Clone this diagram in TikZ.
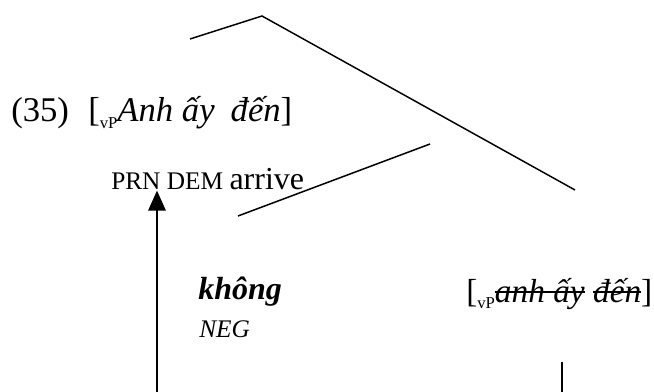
\documentclass[tikz,border=0pt]{standalone}
\usepackage{fontspec}
\setmainfont{Liberation Serif}
\usepackage{tikz}
\usetikzlibrary{arrows.meta}

\tikzset{
  branch/.style={line width=1.1pt},
  word/.style={anchor=base west,inner sep=0pt},
}
\newcommand{\subvp}{\raisebox{-0.2em}{\fontsize{12.5}{12.5}\selectfont vP}}
\newcommand{\strk}[1]{\setbox0\hbox{#1}\rlap{\rule[0.28em]{\wd0}{1.4pt}}\box0\relax}

\begin{document}
\begin{tikzpicture}[x=0.75pt,y=0.75pt,yscale=-1,xscale=1]
\path[use as bounding box] (0,0) rectangle (654,392);

%Tree points
\coordinate (lefta) at (190,39);
\coordinate (apex) at (262,16);
\coordinate (rightb) at (575,190);
\coordinate (mida) at (238,216);
\coordinate (midb) at (430,144);
\coordinate (trace) at (157,392);
\coordinate (stemb) at (562,392);
\coordinate (stema) at (562,362);

% Text Node
\node[word] (ex) at (11,122) {\fontsize{26}{28}\selectfont (35)};
% Text Node
\node[word] (vpa) at (88,122) {\fontsize{26}{28}\selectfont [\subvp\textit{Anh ấy}\hspace{12pt}\textit{đến}]};
% Text Node
\node[word] (gloss) at (111,190) {\fontsize{19}{21}\selectfont PRN DEM \fontsize{24}{26}\selectfont arrive};
% Text Node
\node[word] (neg) at (198,300) {\fontsize{24}{26}\selectfont\textbf{\textit{không}}};
% Text Node
\node[word] (negg) at (199,338) {\fontsize{19}{21}\selectfont\textit{NEG}};
% Text Node
\node[word] (vpb) at (466,302) {\fontsize{25}{27}\selectfont [\subvp\textit{\strk{anh ấy} \strk{đến}}]};

%Straight Lines
\draw[branch] (lefta) -- (apex) -- (rightb);
\draw[branch] (mida) -- (midb);
\draw[branch] (stema) -- (stemb);
%Movement arrow
\draw[line width=1.5pt,-{Triangle[length=15pt,width=13pt]}] (trace) -- (trace |- gloss.south);

\end{tikzpicture}
\end{document}
